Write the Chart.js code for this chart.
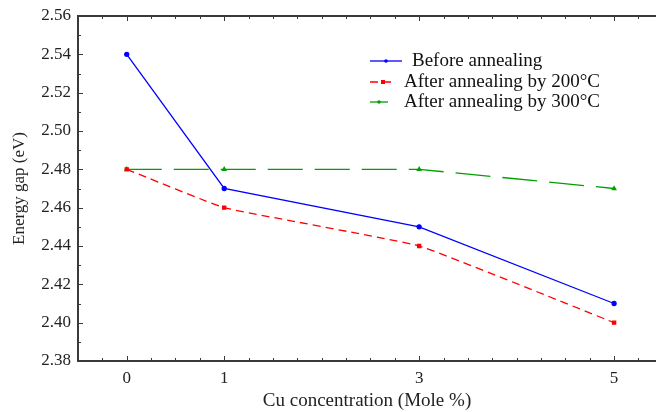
<!DOCTYPE html>
<html>
<head>
<meta charset="utf-8">
<script src="https://cdn.jsdelivr.net/npm/chart.js@4.4.1/dist/chart.umd.min.js"></script>
<style>
  html, body { margin: 0; padding: 0; background: #fff; }
</style>
</head>
<body>
<canvas id="chart" width="656" height="412"></canvas>
<script>
// data
const concentrations = [0, 1, 3, 5];
const beforeAnnealing = [2.54, 2.47, 2.45, 2.41];
const annealed200 = [2.48, 2.46, 2.44, 2.40];
const annealed300 = [2.48, 2.48, 2.48, 2.47];
const xTickLabels = [0, 1, 3, 5];
const yTickLabels = [2.38, 2.40, 2.42, 2.44, 2.46, 2.48, 2.50, 2.52, 2.54, 2.56];

const serif = "'Liberation Serif', 'DejaVu Serif', serif";
const axisColor = "#3a3a3a";

const toPoints = (vals) => concentrations.map((c, i) => ({ x: c, y: vals[i] }));

// frame + inward tick marks, like the original plot
const framePlugin = {
    id: "frame",
    afterDraw(chart) {
        const { ctx, chartArea, scales } = chart;
        const { left, right, top, bottom } = chartArea;
        const x = scales.x, y = scales.y;
        ctx.save();
        ctx.strokeStyle = axisColor;
        ctx.lineWidth = 2;
        ctx.beginPath();
        ctx.moveTo(right, top);
        ctx.lineTo(left, top);
        ctx.lineTo(left, bottom);
        ctx.lineTo(right, bottom);
        ctx.stroke();

        ctx.lineWidth = 1;
        ctx.beginPath();
        for (let i = 0; i <= 18; i++) {
            const v = y.min + i * 0.01;
            const py = Math.round(y.getPixelForValue(v)) + 0.5;
            const len = i % 2 === 0 ? 5 : 3;
            ctx.moveTo(left, py);
            ctx.lineTo(left + len, py);
        }
        for (let v = -0.5; v <= x.max + 1e-9; v += 0.25) {
            const px = Math.round(x.getPixelForValue(v)) + 0.5;
            const len = xTickLabels.includes(v) ? 5 : 3;
            ctx.moveTo(px, bottom);
            ctx.lineTo(px, bottom - len);
            ctx.moveTo(px, top);
            ctx.lineTo(px, top + len);
        }
        ctx.stroke();
        ctx.restore();
    }
};

// legend drawn inside the plot area
const legendPlugin = {
    id: "insideLegend",
    afterDraw(chart) {
        const { ctx } = chart;
        const rows = [
            { y: 61, x0: 370, x1: 402, tx: 412 },
            { y: 82, x0: 370, x1: 396, tx: 404 },
            { y: 102, x0: 370, x1: 388, tx: 404 }
        ];
        ctx.save();
        chart.data.datasets.forEach((ds, i) => {
            const r = rows[i];
            ctx.strokeStyle = ds.borderColor;
            ctx.lineWidth = ds.borderWidth;
            ctx.setLineDash(i === 2 ? [] : (ds.borderDash || []));
            ctx.beginPath();
            ctx.moveTo(r.x0, r.y);
            ctx.lineTo(r.x1, r.y);
            ctx.stroke();
            ctx.setLineDash([]);
            ctx.fillStyle = ds.borderColor;
            const mx = (r.x0 + r.x1) / 2;
            ctx.beginPath();
            if (ds.pointStyle === "rect") ctx.rect(mx - 2, r.y - 2, 4, 4);
            else ctx.arc(mx, r.y, 1.8, 0, Math.PI * 2);
            ctx.fill();
            ctx.fillStyle = "#111";
            ctx.font = "19px " + serif;
            ctx.textBaseline = "middle";
            ctx.fillText(ds.label, r.tx, r.y);
        });
        ctx.restore();
    }
};

const ctx = document.getElementById("chart").getContext("2d");
new Chart(ctx, {
    type: "line",
    data: {
        datasets: [
            {
                label: "Before annealing",
                data: toPoints(beforeAnnealing),
                borderColor: "#0000ff",
                backgroundColor: "#0000ff",
                borderWidth: 1.3,
                pointStyle: "circle",
                pointRadius: 2,
                tension: 0
            },
            {
                label: "After annealing by 200°C",
                data: toPoints(annealed200),
                borderColor: "#ff0000",
                backgroundColor: "#ff0000",
                borderWidth: 1.3,
                borderDash: [8, 5],
                pointStyle: "rect",
                pointRadius: 2.2,
                tension: 0.1
            },
            {
                label: "After annealing by 300°C",
                data: toPoints(annealed300),
                borderColor: "#00a000",
                backgroundColor: "#00a000",
                borderWidth: 1.3,
                borderDash: [35, 12],
                pointStyle: "triangle",
                pointRadius: 2,
                tension: 0
            }
        ]
    },
    options: {
        responsive: false,
        animation: false,
        devicePixelRatio: 1,
        layout: { autoPadding: false, padding: { top: 16, right: 0, left: 0, bottom: 0 } },
        plugins: {
            legend: { display: false },
            tooltip: { enabled: false }
        },
        scales: {
            x: {
                type: "linear",
                min: -0.5,
                max: 5.43,
                grid: { display: false, drawTicks: false },
                border: { display: false },
                afterBuildTicks: (scale) => {
                    scale.ticks = xTickLabels.map((v) => ({ value: v }));
                },
                afterFit: (scale) => {
                    scale.height = 51;
                    scale.paddingLeft = 0;
                    scale.paddingRight = 0;
                },
                ticks: {
                    padding: 7,
                    color: "#222",
                    font: { family: serif, size: 17 },
                    maxRotation: 0,
                    callback: (v) => String(v)
                },
                title: {
                    display: true,
                    text: "Cu concentration (Mole %)",
                    color: "#222",
                    font: { family: serif, size: 19 },
                    padding: { top: 0, bottom: 0 }
                }
            },
            y: {
                min: 2.38,
                max: 2.56,
                grid: { display: false, drawTicks: false },
                border: { display: false },
                afterBuildTicks: (scale) => {
                    scale.ticks = yTickLabels.map((v) => ({ value: v }));
                },
                afterFit: (scale) => {
                    scale.width = 78;
                    scale.paddingTop = 0;
                    scale.paddingBottom = 0;
                },
                ticks: {
                    padding: 7,
                    color: "#222",
                    font: { family: serif, size: 17 },
                    callback: (v) => Number(v).toFixed(2)
                },
                title: {
                    display: true,
                    text: "Energy gap (eV)",
                    color: "#222",
                    font: { family: serif, size: 17 },
                    padding: { top: 9, bottom: 0 }
                }
            }
        }
    },
    plugins: [framePlugin, legendPlugin]
});
</script>
</body>
</html>
